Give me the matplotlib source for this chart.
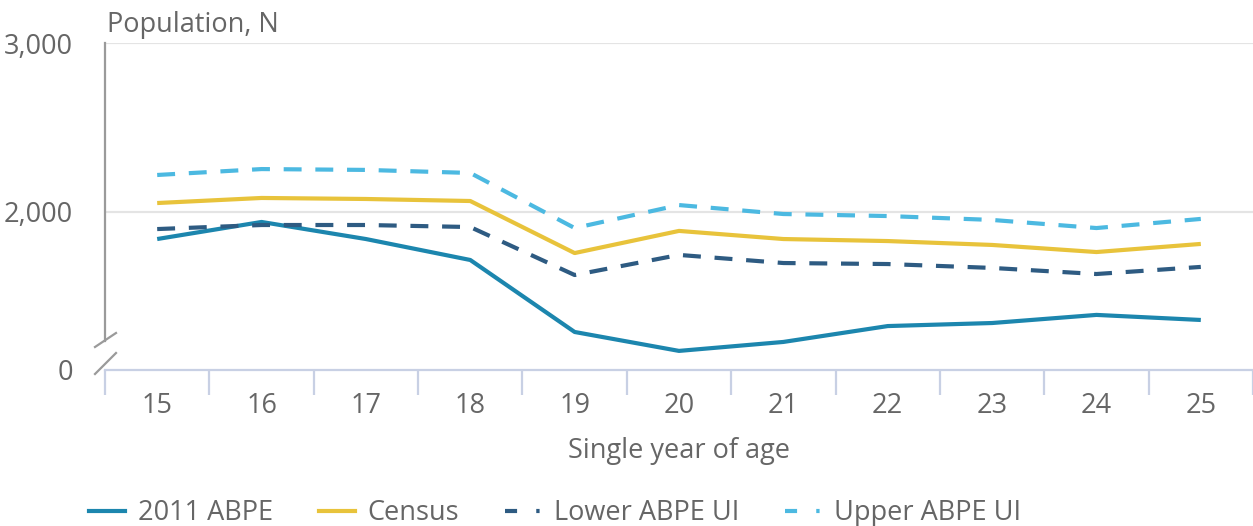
import matplotlib
matplotlib.use("Agg")
import matplotlib.pyplot as plt
from matplotlib.lines import Line2D

plt.rcParams['font.family'] = ['Open Sans', 'DejaVu Sans']

ages = [15, 16, 17, 18, 19, 20, 21, 22, 23, 24, 25]
abpe_2011 = [1840, 1941, 1840, 1716, 1290, 1178, 1231, 1325, 1343, 1391, 1361]
census = [2053, 2083, 2077, 2065, 1757, 1888, 1840, 1828, 1805, 1763, 1811]
lower_ui = [1899, 1923, 1923, 1911, 1627, 1746, 1698, 1692, 1669, 1633, 1675]
upper_ui = [2219, 2254, 2249, 2231, 1905, 2041, 1988, 1976, 1953, 1905, 1959]
y_ticks = [1065, 2000, 3000]
y_tick_labels = ["0", "2,000", "3,000"]

c_abpe = "#1c86ae"
c_census = "#e8c33b"
c_lower = "#2e5b82"
c_upper = "#4cb9e1"
txt = "#666666"
fs = 19.5

W, H = 1253, 526
fig = plt.figure(figsize=(W / 100, H / 100), dpi=100)
ax = fig.add_axes([105 / W, 1 - 370 / H, 1 - 105 / W, (370 - 43) / H])

lw = 3.0
dash = (0, (4.3, 3.3))
ax.plot(ages, abpe_2011, color=c_abpe, lw=lw, solid_capstyle="butt", zorder=3)
ax.plot(ages, census, color=c_census, lw=lw, solid_capstyle="butt", zorder=3)
ax.plot(ages, lower_ui, color=c_lower, lw=lw, linestyle=dash, dash_capstyle="butt", zorder=3)
ax.plot(ages, upper_ui, color=c_upper, lw=lw, linestyle=dash, dash_capstyle="butt", zorder=3)

ax.set_xlim(14.5, 25.5)
ax.set_ylim(1065, 3000)
ax.set_xticks(ages)
ax.set_xticklabels([str(a) for a in ages])
ax.set_yticks(y_ticks)
ax.set_yticklabels(y_tick_labels)

for s in ["top", "right", "left"]:
    ax.spines[s].set_visible(False)
ax.spines["bottom"].set_color("#c8d0e4")
ax.spines["bottom"].set_linewidth(1.6)

for v in [2000, 3000]:
    ax.axhline(v, color="#e4e4e4", lw=1.6, zorder=1)

ax.tick_params(axis="x", length=0, labelsize=fs, labelcolor=txt, pad=16)
ax.tick_params(axis="y", length=0, labelsize=fs, labelcolor=txt, pad=23)

# minor ticks at category boundaries
ax.set_xticks([a - 0.5 for a in ages] + [ages[-1] + 0.5], minor=True)
ax.tick_params(axis="x", which="minor", length=18, width=1.6, color="#c8d0e4", direction="out")

ax.set_xlabel("Single year of age", fontsize=fs, color=txt, labelpad=12)

# left spine with break
ax.plot([0, 0], [1, (370 - 341) / 327], transform=ax.transAxes, color="#9a9a9a",
        lw=1.6, clip_on=False, zorder=4)
for (x0, y0, x1, y1) in [(95, 347, 116, 333), (95, 374, 116, 353)]:
    fig.add_artist(Line2D([x0 / W, x1 / W], [1 - y0 / H, 1 - y1 / H],
                          transform=fig.transFigure, color="#9a9a9a", lw=1.6))

fig.text(107 / W, 1 - 25 / H, "Population, N", fontsize=fs, color=txt, va="center", ha="left")

leg_ls = (0, (2.9, 4.6, 0.8, 5))
handles = [
    Line2D([], [], color=c_abpe, lw=lw),
    Line2D([], [], color=c_census, lw=lw),
    Line2D([], [], color=c_lower, lw=lw, linestyle=leg_ls, dash_capstyle="butt"),
    Line2D([], [], color=c_upper, lw=lw, linestyle=leg_ls, dash_capstyle="butt"),
]
labels = ["2011 ABPE", "Census", "Lower ABPE UI", "Upper ABPE UI"]
fig.legend(handles, labels, loc="center", bbox_to_anchor=(555 / W, 1 - 513 / H), ncol=4,
           frameon=False, fontsize=fs, labelcolor=txt, handlelength=1.33, handletextpad=0.46,
           columnspacing=1.7, borderpad=0, borderaxespad=0)

fig.savefig("out.png", dpi=100)
